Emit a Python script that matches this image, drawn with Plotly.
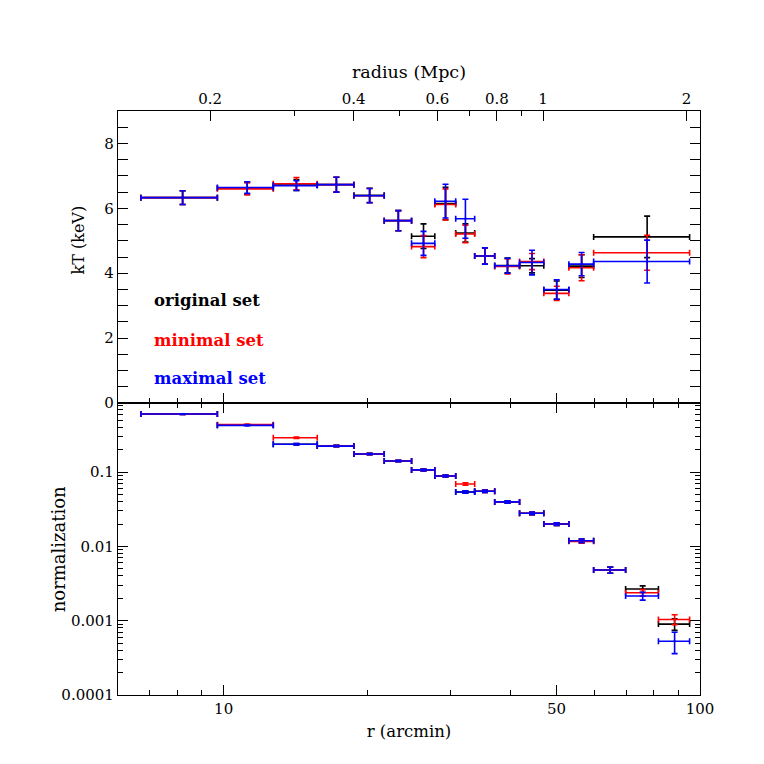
import numpy as np
import plotly.graph_objects as go

# radial bins in arcmin (temperature profile)
kt_r_lo = [6.70, 9.70, 12.71, 15.72, 18.77, 21.73, 24.8, 27.75, 30.7, 33.65, 37.07, 41.8, 47.0, 53.05, 59.8]
kt_r_hi = [9.70, 12.71, 15.72, 18.77, 21.73, 24.8, 27.75, 30.7, 33.65, 37.07, 41.8, 47.0, 53.05, 59.8, 95.1]

kt_orig = [6.33, 6.62, 6.72, 6.73, 6.40, 5.62, 5.14, 6.15, 5.24, 4.53, 4.24, 4.23, 3.48, 4.22, 5.12]
kt_orig_err = [0.21, 0.18, 0.17, 0.23, 0.22, 0.31, 0.38, 0.50, 0.28, 0.25, 0.23, 0.22, 0.28, 0.35, 0.64]
kt_min = [6.33, 6.60, 6.76, 6.73, 6.39, 5.62, 4.82, 6.12, 5.21, 4.53, 4.21, 4.36, 3.38, 4.17, 4.63]
kt_min_err = [0.21, 0.19, 0.19, 0.23, 0.22, 0.31, 0.34, 0.48, 0.27, 0.25, 0.23, 0.25, 0.22, 0.40, 0.54]
kt_max = [6.33, 6.64, 6.70, 6.73, 6.39, 5.62, 4.92, 6.22, 5.68, 4.53, 4.23, 4.33, 3.50, 4.28, 4.36]
kt_max_err = [0.21, 0.18, 0.15, 0.23, 0.22, 0.31, 0.37, 0.52, 0.60, 0.25, 0.23, 0.38, 0.30, 0.36, 0.66]

# radial bins in arcmin (normalization profile)
nm_r_lo = [6.70, 9.70, 12.71, 15.72, 18.77, 21.73, 24.8, 27.75, 30.7, 33.65, 37.07, 41.8, 47.0, 53.05, 59.8, 69.8, 81.8]
nm_r_hi = [9.70, 12.71, 15.72, 18.77, 21.73, 24.8, 27.75, 30.7, 33.65, 37.07, 41.8, 47.0, 53.05, 59.8, 69.8, 81.8, 95.1]

nm_orig = [0.605, 0.43, 0.237, 0.224, 0.175, 0.141, 0.107, 0.0888, 0.054, 0.0552, 0.0397, 0.0279, 0.020, 0.0119, 0.00481, 0.00267, 0.00090]
nm_orig_err = [0.006, 0.005, 0.005, 0.005, 0.004, 0.003, 0.003, 0.0025, 0.002, 0.002, 0.0015, 0.0011, 0.0008, 0.0007, 0.00045, 0.00027, 0.00016]
nm_min = [0.605, 0.435, 0.29, 0.224, 0.175, 0.141, 0.107, 0.0888, 0.069, 0.0552, 0.0397, 0.0279, 0.020, 0.0117, 0.00481, 0.00238, 0.00104]
nm_min_err = [0.006, 0.005, 0.006, 0.005, 0.004, 0.003, 0.003, 0.0025, 0.0025, 0.002, 0.0015, 0.0011, 0.0008, 0.0007, 0.00045, 0.00024, 0.00016]
nm_max = [0.605, 0.425, 0.237, 0.224, 0.175, 0.141, 0.107, 0.0888, 0.054, 0.0552, 0.0397, 0.0279, 0.020, 0.0119, 0.00481, 0.00215, 0.00053]
nm_max_err = [0.006, 0.005, 0.005, 0.005, 0.004, 0.003, 0.003, 0.0025, 0.002, 0.002, 0.0015, 0.0011, 0.0008, 0.0007, 0.00045, 0.00026, 0.00017]

set_names = ["original set", "minimal set", "maximal set"]
set_colors = ["black", "red", "blue"]

mpc_ticks = [0.2, 0.4, 0.6, 0.8, 1, 2]
mpc_minor = [0.3, 0.5, 0.7, 0.9]
r_ticks = [10, 50, 100]
r_minor = [7, 8, 9, 20, 30, 40, 60, 70, 80, 90]
norm_ticks = [0.0001, 0.001, 0.01, 0.1]
norm_labels = ["0.0001", "0.001", "0.01", "0.1"]

MPC_PER_ARCMIN = 0.02135
R_MIN, R_MAX = 6.0, 100.0

FONT = "DejaVu Serif"


def binned(lo, hi, y, yerr, color, xa, ya):
    lo = np.array(lo)
    hi = np.array(hi)
    xc = (lo + hi) / 2
    return go.Scatter(
        x=xc, y=y, mode="markers", xaxis=xa, yaxis=ya, showlegend=False,
        marker=dict(size=2, color=color, symbol="square"),
        error_x=dict(type="data", symmetric=False, array=hi - xc, arrayminus=xc - lo,
                     color=color, thickness=1.6, width=3),
        error_y=dict(type="data", array=yerr, color=color, thickness=1.6, width=3),
    )


fig = go.Figure()

kt_sets = [(kt_orig, kt_orig_err), (kt_min, kt_min_err), (kt_max, kt_max_err)]
nm_sets = [(nm_orig, nm_orig_err), (nm_min, nm_min_err), (nm_max, nm_max_err)]

for (y, e), c in zip(kt_sets, set_colors):
    fig.add_trace(binned(kt_r_lo, kt_r_hi, y, e, c, "x2", "y2"))
for (y, e), c in zip(nm_sets, set_colors):
    fig.add_trace(binned(nm_r_lo, nm_r_hi, y, e, c, "x", "y"))

# invisible trace so the Mpc axis gets drawn
fig.add_trace(go.Scatter(x=[0.3], y=[0], xaxis="x3", yaxis="y2", mode="markers",
                         marker=dict(opacity=0), showlegend=False, hoverinfo="skip"))

tickfont = dict(family=FONT, size=15, color="black")
common = dict(showgrid=False, zeroline=False, showline=True, linecolor="black",
              linewidth=1.3, ticks="inside", ticklen=10, tickwidth=1.1,
              tickcolor="black", tickfont=tickfont, automargin=False)

lr = [np.log10(R_MIN), np.log10(R_MAX)]

# page body has an 8px margin, so the figure is 756 wide and placed at (8, 8)
fig.update_layout(
    width=756, height=756,
    margin=dict(l=110, r=64, t=103, b=69),
    paper_bgcolor="white", plot_bgcolor="white",
    font=dict(family=FONT, size=15, color="black"),
    xaxis=dict(type="log", range=lr, domain=[0, 1], anchor="y", mirror="allticks",
               tickvals=r_ticks, ticktext=[str(t) for t in r_ticks],
               minor=dict(tickmode="array", tickvals=r_minor, ticks="inside", ticklen=5,
                          tickcolor="black"),
               title=dict(text="r (arcmin)", font=dict(family=FONT, size=16.5), standoff=8),
               **common),
    yaxis=dict(type="log", range=[-4, -0.07], domain=[0, 0.5], anchor="x", mirror="allticks",
               tickvals=norm_ticks, ticktext=norm_labels,
               minor=dict(tickmode="array",
                          tickvals=[m * 10.0 ** p for p in range(-4, 0) for m in range(2, 10)],
                          ticks="inside", ticklen=5, tickcolor="black"),
               **common),
    xaxis2=dict(type="log", range=lr, domain=[0, 1], anchor="y2", showticklabels=False,
                tickvals=r_ticks,
                minor=dict(tickmode="array", tickvals=r_minor, ticks="inside", ticklen=5,
                           tickcolor="black"),
                **common),
    xaxis3=dict(type="log", overlaying="x2", side="top", anchor="y2",
                range=[np.log10(R_MIN * MPC_PER_ARCMIN), np.log10(R_MAX * MPC_PER_ARCMIN)],
                tickvals=mpc_ticks, ticktext=[str(t) for t in mpc_ticks],
                minor=dict(tickmode="array", tickvals=mpc_minor, ticks="inside", ticklen=5,
                           tickcolor="black"),
                title=dict(text="radius (Mpc)", font=dict(family=FONT, size=17.5), standoff=6),
                **common),
    yaxis2=dict(range=[0, 9], domain=[0.5, 1], anchor="x2", mirror="allticks",
                tickvals=[0, 2, 4, 6, 8],
                minor=dict(dtick=0.5, ticks="inside", ticklen=5, tickcolor="black"),
                **common),
)

# y-axis titles placed by hand
fig.add_annotation(x=-0.068, y=0.779, xref="paper", yref="paper", text="kT (keV)",
                   textangle=-90, showarrow=False, xanchor="center", yanchor="middle",
                   font=dict(family=FONT, size=16))
fig.add_annotation(x=-0.1026, y=0.25, xref="paper", yref="paper", text="normalization",
                   textangle=-90, showarrow=False, xanchor="center", yanchor="middle",
                   font=dict(family=FONT, size=18))

# legend as coloured text labels
for name, c, yv in zip(set_names, set_colors, [3.17, 1.94, 0.77]):
    fig.add_annotation(x=np.log10(7.08), y=yv, xref="x2", yref="y2", text="<b>" + name + "</b>",
                       showarrow=False, xanchor="left", yanchor="middle",
                       font=dict(family=FONT, size=16.5, color=c))

fig.write_html("out.html")
